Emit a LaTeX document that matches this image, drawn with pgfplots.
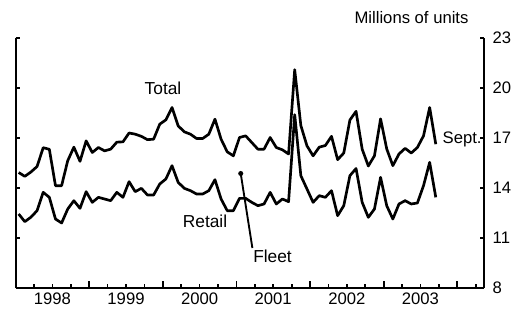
\documentclass[border=0pt]{standalone}
\usepackage{pgfplots}
\usepackage{pgfplotstable}
\pgfplotsset{compat=1.18}
\usepackage{fontspec}
\setmainfont{Liberation Sans}

\pgfplotstableread{
x total retail
0.5 14.93 12.44
1.5 14.70 11.98
2.5 14.96 12.25
3.5 15.29 12.64
4.5 16.42 13.74
5.5 16.32 13.44
6.5 14.14 12.14
7.5 14.14 11.90
8.5 15.64 12.74
9.5 16.45 13.24
10.5 15.60 12.78
11.5 16.83 13.78
12.5 16.13 13.14
13.5 16.43 13.44
14.5 16.23 13.34
15.5 16.33 13.24
16.5 16.75 13.74
17.5 16.77 13.44
18.5 17.30 14.38
19.5 17.23 13.78
20.5 17.10 13.98
21.5 16.90 13.58
22.5 16.93 13.58
23.5 17.83 14.24
24.5 18.09 14.54
25.5 18.83 15.34
26.5 17.73 14.34
27.5 17.37 13.98
28.5 17.23 13.84
29.5 16.97 13.64
30.5 16.97 13.64
31.5 17.23 13.84
32.5 18.13 14.50
33.5 16.93 13.34
34.5 16.17 12.64
35.5 15.93 12.64
36.5 17.03 13.38
37.5 17.13 13.38
38.5 16.73 13.14
39.5 16.33 12.94
40.5 16.33 13.04
41.5 17.03 13.74
42.5 16.43 13.04
43.5 16.29 13.34
44.5 16.04 13.18
45.5 21.10 18.40
46.5 17.75 14.74
47.5 16.53 13.94
48.5 15.93 13.14
49.5 16.45 13.54
50.5 16.55 13.44
51.5 17.10 13.84
52.5 15.70 12.34
53.5 16.10 12.94
54.5 18.08 14.74
55.5 18.60 15.17
56.5 16.33 13.14
57.5 15.32 12.24
58.5 15.93 12.74
59.5 18.15 14.64
60.5 16.35 12.94
61.5 15.34 12.14
62.5 16.04 13.04
63.5 16.38 13.24
64.5 16.10 13.04
65.5 16.43 13.10
66.5 17.13 14.14
67.5 18.83 15.54
68.5 16.63 13.44
}\datatable

\pgfplotsset{
  base/.style={
    scale only axis, width=351.3pt, height=187.5pt,
    xmin=0, xmax=76.36, ymin=8, ymax=23,
    ytick={8,11,...,23},
    tick align=inside,
    clip=false,
    axis line style={line width=1.6pt},
    every tick/.style={line width=1.3pt, black},
    major tick length=3.2pt,
    minor tick length=2.8pt,
    tick label style={font=\fontsize{12.5}{14}\selectfont},
    /pgf/number format/assume math mode=true,
  }
}

\begin{document}
\begin{tikzpicture}
\useasboundingbox (-11.7pt,-19.5pt) rectangle (380.55pt,216pt);
\begin{axis}[base,
  axis x line*=bottom, axis y line=none,
  major tick length=5pt,
  xtick={0,12,...,72}, xticklabels={},
  minor xtick={3,6,...,75},
  extra x ticks={6,18,...,66},
  extra x tick labels={1998,1999,2000,2001,2002,2003},
  extra x tick style={major tick length=0pt},
]
\addplot[black, line width=2pt, line join=round] table[x=x,y=total] {\datatable};
\addplot[black, line width=2pt, line join=round] table[x=x,y=retail] {\datatable};
\node[font=\fontsize{13}{15}\selectfont] at (axis cs:24.03,20.0) {Total};
\node[font=\fontsize{13}{15}\selectfont] at (axis cs:30.88,12.0) {Retail};
\node[font=\fontsize{13}{15}\selectfont, anchor=west, inner sep=0pt] at (axis cs:38.7,9.9) {Fleet};
\node[font=\fontsize{12.5}{14}\selectfont, fill=white, inner sep=0.5pt] at (axis cs:72.8,16.92) {Sept.};
\node[font=\fontsize{12.5}{14}\selectfont, anchor=east] at (axis cs:74.6,24.23) {Millions of units};
\draw[black, line width=1.4pt] (axis cs:36.7,14.87) -- (axis cs:38.6,10.4);
\fill[black] (axis cs:36.7,14.87) circle (1.9pt);
\end{axis}
\begin{axis}[base,
  axis y line*=left, axis x line=none,
  yticklabels={},
]
\end{axis}
\begin{axis}[base,
  axis y line*=right, axis x line=none,
  yticklabel style={xshift=3pt},
]
\end{axis}
\end{tikzpicture}
\end{document}
